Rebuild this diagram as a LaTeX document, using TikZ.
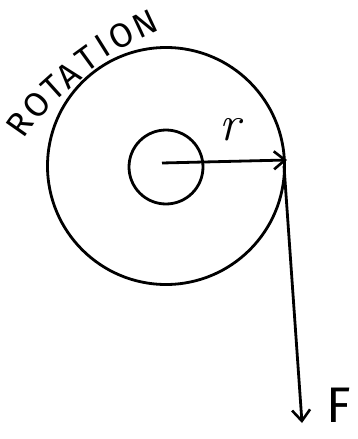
\documentclass[tikz,border=0pt]{standalone}
\usepackage{fontspec}
\newfontfamily\handfont{Fira Sans}
\usetikzlibrary{arrows.meta}
\tikzset{
  ink/.style={line width=2.8pt, black},
  ring/.style={circle, draw, ink, inner sep=0pt},
  vec/.style={ink, -{Straight Barb[length=11pt,width=18pt,line width=2.6pt]}},
  letter/.style={font=\handfont\fontsize{34}{34}\selectfont, inner sep=0pt},
}
\begin{document}
\begin{tikzpicture}[x=1pt,y=-1pt]
\useasboundingbox (0,0) rectangle (358,439);
\node[ring, minimum size=237pt] (big) at (166,166) {};
\node[ring, minimum size=74pt] (small) at (166,167) {};
\coordinate (c) at (162,163);
\coordinate (rim) at (287,160);
\coordinate (ftail) at (284,166);
\coordinate (ftip) at (302,423);
\draw[vec] (c) -- (rim);
\draw[vec] (ftail) -- (ftip);
\node[inner sep=0pt, font=\fontsize{50}{50}\selectfont\itshape] (rlab) at (230,130) {r};
\node[letter, font=\handfont\fontsize{50}{50}\selectfont] (flab) at (339,405) {F};
\node[letter, rotate=55] (l1) at (20,124) {R};
\node[letter, rotate=48] (l2) at (37,105) {O};
\node[letter, rotate=42] (l3) at (53,88) {T};
\node[letter, rotate=40] (l4) at (68,75) {A};
\node[letter, rotate=36] (l5) at (87,59) {T};
\node[letter, rotate=32] (l6) at (103,46) {I};
\node[letter, rotate=28] (l7) at (121,36) {O};
\node[letter, rotate=25] (l8) at (145,24) {N};
\end{tikzpicture}
\end{document}
